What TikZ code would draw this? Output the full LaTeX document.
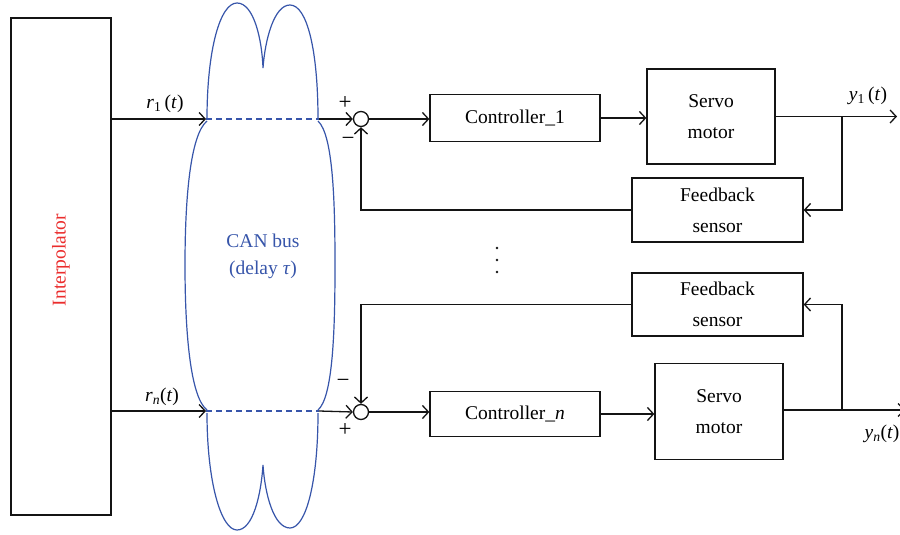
\documentclass[tikz,border=0pt]{standalone}
\usepackage{fontspec}
\setmainfont{Liberation Serif}
\usetikzlibrary{arrows.meta}
\definecolor{canblue}{RGB}{55,85,170}
\definecolor{ired}{RGB}{235,45,45}
\definecolor{lc}{RGB}{20,20,20}
\newcommand{\iv}[1]{\textit{#1}}
\begin{document}
\begin{tikzpicture}[x=1pt,y=-1pt,line width=1.3pt,draw=lc,
  arr/.style={-{Straight Barb[length=6pt,width=13pt,line width=1.3pt]}},
  box/.style={draw=lc,align=center,inner sep=0pt,font=\fontsize{19.5}{31}\selectfont},
  sumnode/.style={draw=lc,circle,minimum size=15pt,inner sep=0pt},
  lbl/.style={font=\fontsize{19.5}{24}\selectfont,inner sep=0pt},
  sgn/.style={font=\fontsize{23}{24}\selectfont,inner sep=0pt},
  canline/.style={draw=canblue,line width=1.2pt}]
\useasboundingbox[fill=white] (0,0) rectangle (900,535);
% Interpolator
\node[box,minimum width=100pt,minimum height=497pt] (interp) at (61,266.5) {};
\node[lbl,rotate=90,text=ired] (interplabel) at (61,260) {Interpolator};
% CAN bus shape
\draw[canline] (207,119) .. controls (207,50) and (220,3) .. (237,3)
  .. controls (254,3) and (262,40) .. (263,68)
  .. controls (265,40) and (274,5) .. (290,5)
  .. controls (307,5) and (318,50) .. (318,119);
\draw[canline] (207,121) .. controls (190,135) and (185,200) .. (185,265)
  .. controls (185,330) and (190,397) .. (207,410);
\draw[canline] (318,121) .. controls (333,135) and (335,200) .. (335,265)
  .. controls (335,330) and (333,397) .. (318,410);
\draw[canline] (207,413) .. controls (207,482) and (221,530) .. (237,530)
  .. controls (253,530) and (261,495) .. (263,465)
  .. controls (265,495) and (274,528) .. (290,528)
  .. controls (306,528) and (318,482) .. (318,413);
\coordinate (canL1) at (206,119);
\coordinate (canR1) at (319,119);
\coordinate (canLn) at (206,411);
\coordinate (canRn) at (319,411);
\draw[canline,dash pattern=on 6pt off 4pt] (canL1) -- (canR1);
\draw[canline,dash pattern=on 6pt off 4pt] (canLn) -- (canRn);
\node[lbl,text=canblue,align=center,font=\fontsize{19.5}{27}\selectfont] (canlab) at (263,256) {CAN bus\\(delay \iv{τ})};
% upper loop
\node[sumnode] (sum1) at (361,119) {};
\node[box,minimum width=170pt,minimum height=47pt] (c1) at (515,118) {Controller\_1};
\node[box,minimum width=128pt,minimum height=95pt] (s1) at (711,116.5) {Servo\\motor};
\node[box,minimum width=171pt,minimum height=64pt] (f1) at (717.5,210) {Feedback\\sensor};
\coordinate (br1) at (842,116.5);
\coordinate (y1end) at (897,116.5);
\draw[arr] (interp.east |- canL1) -- (canL1);
\node[lbl] (r1lab) at (165,104) {\iv{r}\textsubscript{1}\,(\iv{t})};
\draw[arr] (canR1) -- (sum1.west);
\node[sgn] (plus1) at (345,103) {+};
\node[sgn] (minus1) at (348,141) {−};
\draw[arr] (sum1.east) -- (sum1.east -| c1.west);
\draw[arr] (c1.east) -- (c1.east -| s1.west);
\draw[arr] (s1.east) -- (y1end);
\node[lbl] (y1lab) at (868,96) {\iv{y}\textsubscript{1}\,(\iv{t})};
\draw[arr] (br1) |- (f1.east);
\draw[arr] (f1.west) -| (sum1.south);
% dots
\fill[lc] (497,248) circle (1.4pt) (497,260) circle (1.4pt) (497,272) circle (1.4pt);
% lower loop
\node[sumnode] (sumn) at (361,412) {};
\node[box,minimum width=171pt,minimum height=63pt] (f2) at (717.5,304.5) {Feedback\\sensor};
\node[box,minimum width=170pt,minimum height=45pt] (cn) at (515,414) {Controller\_\iv{n}};
\node[box,minimum width=128pt,minimum height=96pt] (s2) at (719,411.5) {Servo\\motor};
\coordinate (br2) at (842,410);
\coordinate (ynend) at (905,410);
\draw[arr] (interp.east |- canLn) -- (canLn);
\node[lbl] (rnlab) at (162,397) {\iv{r}\textsubscript{\iv{n}}(\iv{t})};
\draw[arr] (canRn) -- (sumn.west);
\node[sgn] (minusn) at (343,383) {−};
\node[sgn] (plusn) at (345,430) {+};
\draw[arr] (sumn.east) -- (sumn.east -| cn.west);
\draw[arr] (cn.east) -- (cn.east -| s2.west);
\draw[arr] (s2.east |- br2) -- (ynend);
\node[lbl,anchor=west] (ynlab) at (864,434) {\iv{y}\textsubscript{\iv{n}}(\iv{t})};
\draw[arr] (br2) |- (f2.east);
\draw[arr] (f2.west) -| (sumn.north);
\end{tikzpicture}
\end{document}
